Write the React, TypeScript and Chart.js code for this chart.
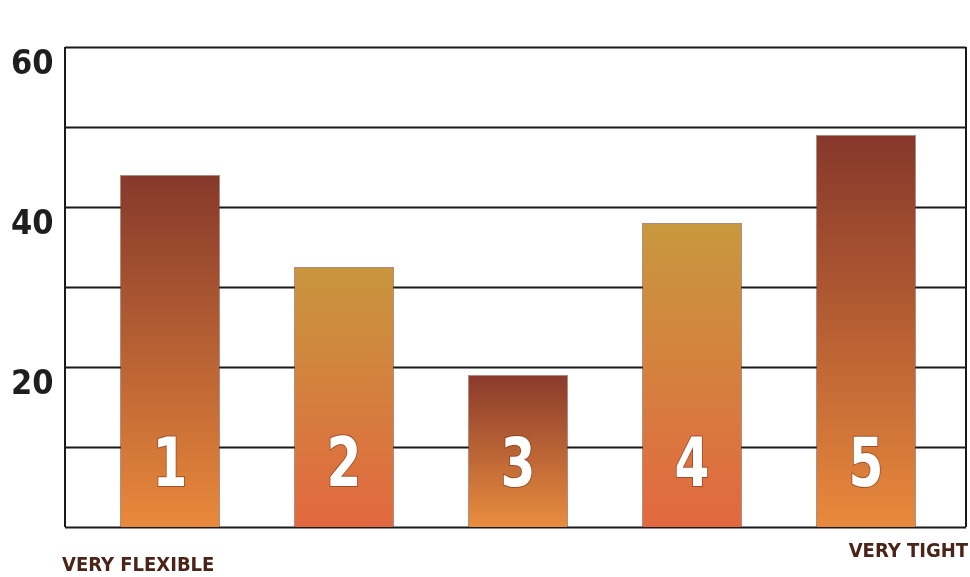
import React, { useEffect, useRef } from "react";
import { Chart, registerables } from "chart.js";

Chart.register(...registerables);

const categories = ["1", "2", "3", "4", "5"];
const values = [44, 32.5, 19, 38, 49];
const yTickLabels = [20, 40, 60];
const endLabels = ["VERY FLEXIBLE", "VERY TIGHT"];

const topColors = ["#86392b", "#c8963d", "#8a3a2c", "#c8983e", "#86372b"];
const bottomColors = ["#e9893c", "#e2683f", "#e98d3e", "#e2683f", "#e9893c"];

const FONT = '"Liberation Sans Narrow", "DejaVu Sans Condensed", "Liberation Sans", sans-serif';

const framePlugin = {
  id: "framePlugin",
  beforeDatasetsDraw(chart: any) {
    const { ctx, chartArea, scales } = chart;
    const y = scales.y;
    const left = chartArea.left - 18;
    const right = chartArea.right + 13;
    ctx.save();
    ctx.strokeStyle = "#1a1a1a";
    ctx.lineWidth = 2;
    for (let v = 0; v <= 60; v += 10) {
      const py = Math.round(y.getPixelForValue(v)) + 0.5;
      ctx.beginPath();
      ctx.moveTo(left, py);
      ctx.lineTo(right, py);
      ctx.stroke();
    }
    const top = y.getPixelForValue(60);
    const bottom = y.getPixelForValue(0);
    ctx.beginPath();
    ctx.moveTo(left, top);
    ctx.lineTo(left, bottom);
    ctx.moveTo(right, top);
    ctx.lineTo(right, bottom);
    ctx.stroke();
    ctx.restore();
  },
  afterDatasetsDraw(chart: any) {
    const { ctx, chartArea } = chart;
    const meta = chart.getDatasetMeta(0);
    ctx.save();
    ctx.font = `bold 68px ${FONT}`;
    ctx.textAlign = "center";
    ctx.textBaseline = "middle";
    meta.data.forEach((bar: any, i: number) => {
      const ty = chartArea.bottom - 59;
      ctx.save();
      ctx.translate(bar.x, ty);
      ctx.scale(0.82, 1);
      ctx.lineWidth = 2;
      ctx.strokeStyle = "rgba(120,50,30,0.6)";
      ctx.strokeText(categories[i], 0, 0);
      ctx.fillStyle = "#ffffff";
      ctx.fillText(categories[i], 0, 0);
      ctx.restore();
    });
    ctx.font = `bold 20px ${FONT}`;
    ctx.fillStyle = "#4a2418";
    ctx.textBaseline = "middle";
    ctx.textAlign = "left";
    ctx.fillText(endLabels[0], chartArea.left - 21, chartArea.bottom + 39);
    ctx.textAlign = "right";
    ctx.fillText(endLabels[1], chartArea.right + 15, chartArea.bottom + 25);
    ctx.restore();
  },
};

export default function App() {
  const ref = useRef<HTMLCanvasElement | null>(null);
  useEffect(() => {
    document.body.style.margin = "0";
    if (!ref.current) return;
    const chart = new Chart(ref.current, {
      type: "bar",
      data: {
        labels: categories,
        datasets: [
          {
            data: values,
            backgroundColor: (c: any) => {
              const chart = c.chart;
              const area = chart.chartArea;
              const i = c.dataIndex;
              if (!area || !chart.scales.y || i === undefined) return bottomColors[i ?? 0];
              const top = chart.scales.y.getPixelForValue(values[i]);
              const g = chart.ctx.createLinearGradient(0, top, 0, area.bottom);
              g.addColorStop(0, topColors[i]);
              g.addColorStop(1, bottomColors[i]);
              return g;
            },
            borderColor: "rgba(110,45,25,0.55)",
            borderWidth: 1,
            categoryPercentage: 1,
            barPercentage: 0.575,
          },
        ],
      },
      options: {
        animation: false,
        responsive: true,
        maintainAspectRatio: false,
        layout: { padding: { top: 47, bottom: 50, right: 17, left: 11 } },
        plugins: { legend: { display: false }, tooltip: { enabled: false } },
        scales: {
          x: { display: false },
          y: {
            min: 0,
            max: 60,
            afterFit: (s: any) => {
              s.width = 72;
            },
            grid: { display: false, drawTicks: false },
            border: { display: false },
            ticks: {
              stepSize: 10,
              padding: 4,
              crossAlign: "far",
              labelOffset: 18,
              color: "#1e1e1e",
              font: { family: FONT, size: 34, weight: "bold" },
              callback: (v: any) => (yTickLabels.includes(Number(v)) ? String(v) : ""),
            },
          },
        },
      },
      plugins: [framePlugin],
    });
    return () => chart.destroy();
  }, []);
  return (
    <div style={{ width: 970, height: 577, position: "relative", background: "#fff" }}>
      <canvas ref={ref} />
    </div>
  );
}
